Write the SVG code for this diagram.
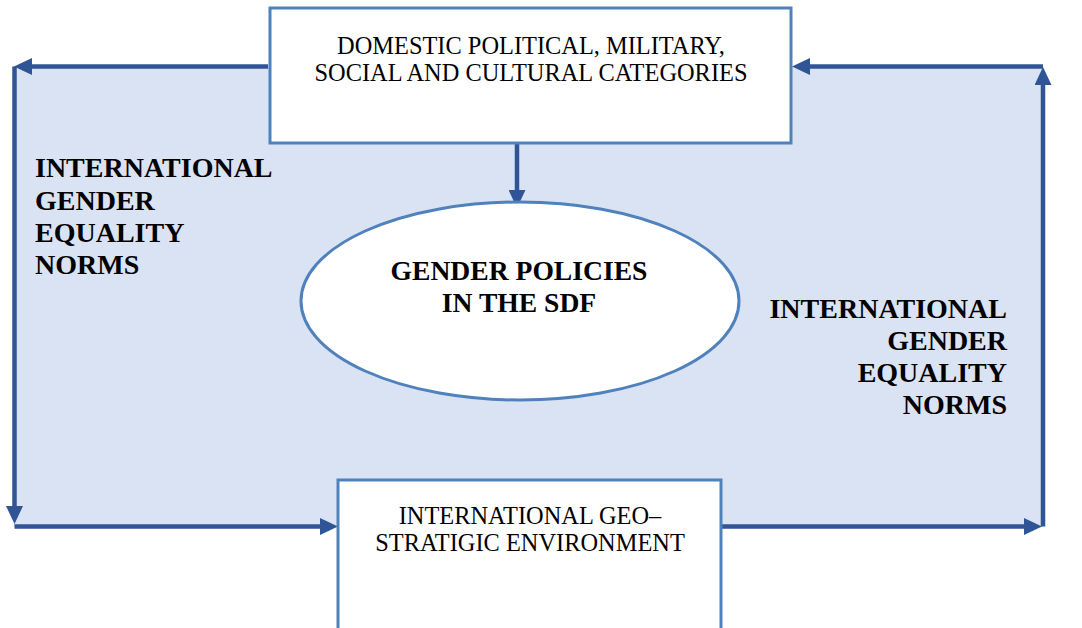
<svg xmlns="http://www.w3.org/2000/svg" width="1082" height="628" viewBox="0 0 1082 628">
  <style>
    .bg { fill: #DAE3F3; }
    .box { fill: #FFFFFF; stroke: #4F81BD; stroke-width: 3; }
    .flow { fill: none; stroke: #2F5597; stroke-width: 4.5; marker-end: url(#head); }
    .t { font-family: "Liberation Serif", "Times New Roman", serif; fill: #000; }
    .reg { font-size: 24.4px; }
    .bold { font-size: 28px; font-weight: bold; }
    .mid { text-anchor: middle; }
  </style>
  <defs>
    <marker id="head" markerUnits="userSpaceOnUse" markerWidth="18" markerHeight="17" refX="12" refY="8.5" orient="auto">
      <path d="M0,0 L18,8.5 L0,17 z" fill="#2F5597"/>
    </marker>
  </defs>

  <!-- shaded field enclosed by the feedback loop -->
  <rect class="bg" x="14" y="66" width="1029" height="461"/>

  <g id="connectors">
    <path class="flow" d="M268,66.5 H20"/>
    <path class="flow" d="M14.5,66.5 V518"/>
    <path class="flow" d="M14.5,526.5 H332"/>
    <path class="flow" d="M722,526.5 H1036"/>
    <path class="flow" d="M1043,526.5 V73"/>
    <path class="flow" d="M1043,66.5 H798"/>
    <path class="flow" d="M517,143 V202"/>
  </g>

  <g id="domestic">
    <rect class="box" x="270" y="8" width="521" height="135"/>
    <text class="t reg mid" x="531" y="54">DOMESTIC POLITICAL, MILITARY,</text>
    <text class="t reg mid" x="531" y="81">SOCIAL AND CULTURAL CATEGORIES</text>
  </g>

  <g id="policies">
    <ellipse class="box" cx="520" cy="301" rx="219" ry="99"/>
    <text class="t bold mid" x="519" y="280" style="font-size:27.6px">GENDER POLICIES</text>
    <text class="t bold mid" x="519" y="312" style="font-size:27.6px">IN THE SDF</text>
  </g>

  <g id="environment">
    <rect class="box" x="338" y="480" width="383" height="160"/>
    <text class="t reg mid" x="530" y="524">INTERNATIONAL GEO–</text>
    <text class="t reg mid" x="530" y="551">STRATIGIC ENVIRONMENT</text>
  </g>

  <g id="norms-left">
    <text class="t bold" x="35" y="177">INTERNATIONAL</text>
    <text class="t bold" x="35" y="210">GENDER</text>
    <text class="t bold" x="35" y="242">EQUALITY</text>
    <text class="t bold" x="35" y="274">NORMS</text>
  </g>

  <g id="norms-right">
    <text class="t bold" x="1007" y="318" text-anchor="end">INTERNATIONAL</text>
    <text class="t bold" x="1007" y="350" text-anchor="end">GENDER</text>
    <text class="t bold" x="1007" y="382" text-anchor="end">EQUALITY</text>
    <text class="t bold" x="1007" y="414" text-anchor="end">NORMS</text>
  </g>
</svg>
